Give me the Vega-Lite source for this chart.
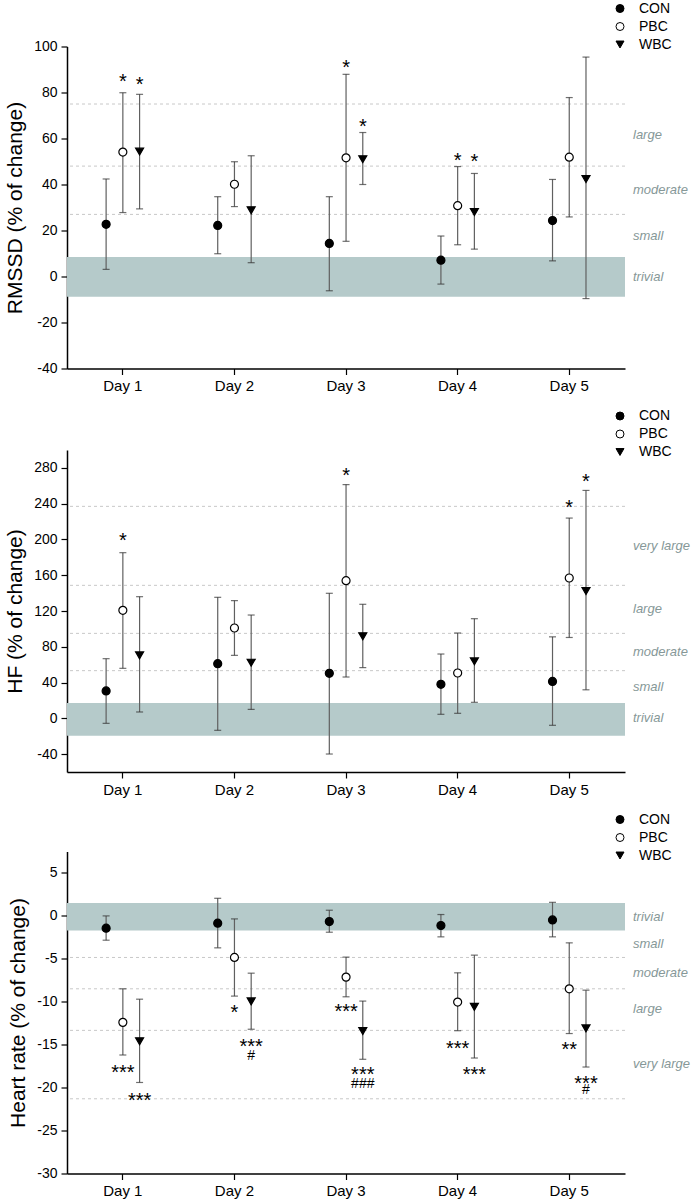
{
  "$schema": "https://vega.github.io/schema/vega-lite/v6.json",
  "padding": {"left": 4, "top": 1.5, "right": 0, "bottom": 0},
  "config": {
    "font": "Liberation Sans",
    "view": {"stroke": null},
    "axis": {"domainColor": "black", "domainWidth": 1.5, "tickColor": "black", "tickWidth": 1.2, "tickSize": 6, "labelColor": "black", "labelFontSize": 14, "titleFontSize": 21, "titleFontWeight": "normal", "titleColor": "black", "grid": false, "labelOverlap": false},
    "axisX": {"labelFontSize": 15, "labelPadding": 4, "labelAngle": 0},
    "axisY": {"labelPadding": 4, "titlePadding": 8},
    "legend": {"orient": "none", "labelFontSize": 14, "labelColor": "black", "symbolStrokeColor": "black", "symbolStrokeWidth": 1, "rowPadding": 4, "labelOffset": 12, "padding": 0}
  },
  "datasets": {
    "p1": [
      {"day": "Day 1", "group": "CON", "mean": 22.7, "lo": 3.1, "hi": 42.4},
      {"day": "Day 1", "group": "PBC", "mean": 54.1, "lo": 27.8, "hi": 79.9},
      {"day": "Day 1", "group": "WBC", "mean": 54.3, "lo": 29.4, "hi": 79.2},
      {"day": "Day 2", "group": "CON", "mean": 22.2, "lo": 9.9, "hi": 34.7},
      {"day": "Day 2", "group": "PBC", "mean": 40.1, "lo": 30.4, "hi": 49.9},
      {"day": "Day 2", "group": "WBC", "mean": 28.8, "lo": 6.0, "hi": 52.5},
      {"day": "Day 3", "group": "CON", "mean": 14.4, "lo": -6.2, "hi": 34.7},
      {"day": "Day 3", "group": "PBC", "mean": 51.6, "lo": 15.3, "hi": 87.9},
      {"day": "Day 3", "group": "WBC", "mean": 51.0, "lo": 40.0, "hi": 62.6},
      {"day": "Day 4", "group": "CON", "mean": 7.1, "lo": -3.3, "hi": 17.6},
      {"day": "Day 4", "group": "PBC", "mean": 30.8, "lo": 13.8, "hi": 47.8},
      {"day": "Day 4", "group": "WBC", "mean": 28.0, "lo": 11.9, "hi": 44.8},
      {"day": "Day 5", "group": "CON", "mean": 24.3, "lo": 6.8, "hi": 42.2},
      {"day": "Day 5", "group": "PBC", "mean": 51.9, "lo": 25.9, "hi": 77.8},
      {"day": "Day 5", "group": "WBC", "mean": 42.4, "lo": -9.6, "hi": 95.4}
    ],
    "p2": [
      {"day": "Day 1", "group": "CON", "mean": 30.6, "lo": -5.6, "hi": 66.7},
      {"day": "Day 1", "group": "PBC", "mean": 120.8, "lo": 55.9, "hi": 185.2},
      {"day": "Day 1", "group": "WBC", "mean": 70.4, "lo": 7.1, "hi": 136.0},
      {"day": "Day 2", "group": "CON", "mean": 61.1, "lo": -13.4, "hi": 135.3},
      {"day": "Day 2", "group": "PBC", "mean": 101.0, "lo": 70.4, "hi": 131.6},
      {"day": "Day 2", "group": "WBC", "mean": 62.2, "lo": 10.0, "hi": 115.5},
      {"day": "Day 3", "group": "CON", "mean": 50.3, "lo": -39.9, "hi": 139.8},
      {"day": "Day 3", "group": "PBC", "mean": 153.9, "lo": 46.2, "hi": 261.3},
      {"day": "Day 3", "group": "WBC", "mean": 91.7, "lo": 56.7, "hi": 127.5},
      {"day": "Day 4", "group": "CON", "mean": 38.0, "lo": 4.5, "hi": 71.9},
      {"day": "Day 4", "group": "PBC", "mean": 50.7, "lo": 5.6, "hi": 95.4},
      {"day": "Day 4", "group": "WBC", "mean": 63.7, "lo": 17.9, "hi": 111.4},
      {"day": "Day 5", "group": "CON", "mean": 41.3, "lo": -7.8, "hi": 91.1},
      {"day": "Day 5", "group": "PBC", "mean": 156.9, "lo": 90.4, "hi": 223.9},
      {"day": "Day 5", "group": "WBC", "mean": 142.4, "lo": 31.9, "hi": 254.8}
    ],
    "p3": [
      {"day": "Day 1", "group": "CON", "mean": -1.43, "lo": -2.83, "hi": 0.0},
      {"day": "Day 1", "group": "PBC", "mean": -12.4, "lo": -16.2, "hi": -8.49},
      {"day": "Day 1", "group": "WBC", "mean": -14.6, "lo": -19.4, "hi": -9.7},
      {"day": "Day 2", "group": "CON", "mean": -0.85, "lo": -3.72, "hi": 2.05},
      {"day": "Day 2", "group": "PBC", "mean": -4.84, "lo": -9.34, "hi": -0.35},
      {"day": "Day 2", "group": "WBC", "mean": -9.96, "lo": -13.2, "hi": -6.67},
      {"day": "Day 3", "group": "CON", "mean": -0.66, "lo": -1.9, "hi": 0.66},
      {"day": "Day 3", "group": "PBC", "mean": -7.13, "lo": -9.42, "hi": -4.8},
      {"day": "Day 3", "group": "WBC", "mean": -13.4, "lo": -16.7, "hi": -9.92},
      {"day": "Day 4", "group": "CON", "mean": -1.12, "lo": -2.44, "hi": 0.16},
      {"day": "Day 4", "group": "PBC", "mean": -10.04, "lo": -13.37, "hi": -6.63},
      {"day": "Day 4", "group": "WBC", "mean": -10.6, "lo": -16.55, "hi": -4.57},
      {"day": "Day 5", "group": "CON", "mean": -0.47, "lo": -2.44, "hi": 1.58},
      {"day": "Day 5", "group": "PBC", "mean": -8.49, "lo": -13.7, "hi": -3.14},
      {"day": "Day 5", "group": "WBC", "mean": -13.1, "lo": -17.6, "hi": -8.65}
    ],
    "a1": [
      {"day": "Day 1", "group": "PBC", "t": "*", "v": 86.9},
      {"day": "Day 1", "group": "WBC", "t": "*", "v": 85.5},
      {"day": "Day 3", "group": "PBC", "t": "*", "v": 93.0},
      {"day": "Day 3", "group": "WBC", "t": "*", "v": 67.6},
      {"day": "Day 4", "group": "PBC", "t": "*", "v": 52.8},
      {"day": "Day 4", "group": "WBC", "t": "*", "v": 52.0}
    ],
    "a2": [
      {"day": "Day 1", "group": "PBC", "t": "*", "v": 204.6},
      {"day": "Day 3", "group": "PBC", "t": "*", "v": 276.6},
      {"day": "Day 5", "group": "PBC", "t": "*", "v": 241.4},
      {"day": "Day 5", "group": "WBC", "t": "*", "v": 270.4}
    ],
    "a3": [
      {"day": "Day 1", "group": "PBC", "t": "***", "v": -17.6},
      {"day": "Day 1", "group": "WBC", "t": "***", "v": -20.9},
      {"day": "Day 2", "group": "PBC", "t": "*", "v": -10.7},
      {"day": "Day 2", "group": "WBC", "t": "***", "v": -14.6},
      {"day": "Day 2", "group": "WBC", "t": "#", "v": -16.2},
      {"day": "Day 3", "group": "PBC", "t": "***", "v": -10.6},
      {"day": "Day 3", "group": "WBC", "t": "***", "v": -17.9},
      {"day": "Day 3", "group": "WBC", "t": "###", "v": -19.5},
      {"day": "Day 4", "group": "PBC", "t": "***", "v": -14.9},
      {"day": "Day 4", "group": "WBC", "t": "***", "v": -17.9},
      {"day": "Day 5", "group": "PBC", "t": "**", "v": -15.0},
      {"day": "Day 5", "group": "WBC", "t": "***", "v": -18.95},
      {"day": "Day 5", "group": "WBC", "t": "#", "v": -20.2}
    ],
    "t1": [{"v": 75}, {"v": 48}, {"v": 27}],
    "t2": [{"v": 237}, {"v": 148.7}, {"v": 95}, {"v": 53.3}],
    "t3": [{"v": -4.84}, {"v": -8.49}, {"v": -13.33}, {"v": -21.3}],
    "b1": [{"lo": -8.8, "hi": 8.5}],
    "b2": [{"lo": -19.4, "hi": 17.1}],
    "b3": [{"lo": -1.7, "hi": 1.5}],
    "l1": [{"label": "large", "v": 61.5}, {"label": "moderate", "v": 37.5}, {"label": "small", "v": 17.75}, {"label": "trivial", "v": 0}],
    "l2": [{"label": "very large", "v": 192.9}, {"label": "large", "v": 121.9}, {"label": "moderate", "v": 74.2}, {"label": "small", "v": 35.2}, {"label": "trivial", "v": 0}],
    "l3": [{"label": "trivial", "v": -0.1}, {"label": "small", "v": -3.3}, {"label": "moderate", "v": -6.7}, {"label": "large", "v": -10.9}, {"label": "very large", "v": -17.3}]
  },
  "spacing": 15.5,
  "resolve": {
    "scale": {"shape": "independent", "fill": "independent", "size": "independent", "stroke": "independent"},
    "legend": {"shape": "independent", "fill": "independent", "size": "independent", "stroke": "independent"}
  },
  "vconcat": [
    {
      "width": 558, "height": 322,
      "layer": [
        {"data": {"name": "b1"}, "mark": {"type": "rect", "color": "#b5caca"},
         "encoding": {"y": {"field": "lo", "type": "quantitative", "scale": {"domain": [-40, 100], "nice": false, "zero": false}}, "y2": {"field": "hi"}}},
        {"data": {"name": "t1"}, "mark": {"type": "rule", "color": "#c8c8c8", "strokeDash": [3, 3], "strokeWidth": 1},
         "encoding": {"y": {"field": "v", "type": "quantitative"}}},
        {"data": {"name": "p1"}, "mark": {"type": "rule", "color": "#606060", "strokeWidth": 1.2},
         "encoding": {"x": {"field": "day", "type": "nominal", "title": null, "scale": {"paddingInner": 0, "paddingOuter": 0}},
                      "xOffset": {"field": "group", "type": "nominal", "scale": {"domain": ["CON", "PBC", "WBC"], "paddingInner": 0, "paddingOuter": 0, "range": [30.75, 80.95]}},
                      "y": {"field": "lo", "type": "quantitative"}, "y2": {"field": "hi"}}},
        {"data": {"name": "p1"}, "mark": {"type": "tick", "color": "#333333", "size": 7, "thickness": 1.2, "orient": "horizontal"},
         "encoding": {"x": {"field": "day", "type": "nominal", "title": null}, "xOffset": {"field": "group", "type": "nominal"},
                      "y": {"field": "lo", "type": "quantitative"}}},
        {"data": {"name": "p1"}, "mark": {"type": "tick", "color": "#333333", "size": 7, "thickness": 1.2, "orient": "horizontal"},
         "encoding": {"x": {"field": "day", "type": "nominal", "title": null}, "xOffset": {"field": "group", "type": "nominal"},
                      "y": {"field": "hi", "type": "quantitative"}}},
        {"data": {"name": "p1"}, "mark": {"type": "point", "strokeWidth": 1.2, "opacity": 1},
         "encoding": {"x": {"field": "day", "type": "nominal", "title": null, "axis": {"labelAngle": 0}},
                      "xOffset": {"field": "group", "type": "nominal"},
                      "y": {"field": "mean", "type": "quantitative", "title": "RMSSD (% of change)",
                            "axis": {"values": [-40, -30, -20, -10, 0, 10, 20, 30, 40, 50, 60, 70, 80, 90, 100], "labelExpr": "'' + datum.value"}},
                      "shape": {"field": "group", "type": "nominal", "scale": {"domain": ["CON", "PBC", "WBC"], "range": ["circle", "circle", "triangle-down"]},
                                "legend": {"title": null, "orient": "none", "legendX": 546, "legendY": -45}},
                      "fill": {"field": "group", "type": "nominal", "scale": {"domain": ["CON", "PBC", "WBC"], "range": ["black", "white", "black"]},
                               "legend": {"title": null, "orient": "none", "legendX": 546, "legendY": -45}},
                      "stroke": {"field": "group", "type": "nominal", "scale": {"domain": ["CON", "PBC", "WBC"], "range": ["black", "black", "black"]},
                               "legend": {"title": null, "orient": "none", "legendX": 546, "legendY": -45}},
                      "size": {"field": "group", "type": "nominal", "scale": {"domain": ["CON", "PBC", "WBC"], "range": [64, 64, 85]},
                               "legend": {"title": null, "orient": "none", "legendX": 546, "legendY": -45}}}},
        {"data": {"name": "a1"}, "mark": {"type": "text", "fontSize": 20, "baseline": "alphabetic", "dy": 11.5, "color": "black"},
         "encoding": {"x": {"field": "day", "type": "nominal", "title": null}, "xOffset": {"field": "group", "type": "nominal"},
                      "y": {"field": "v", "type": "quantitative"}, "text": {"field": "t"}}},
        {"data": {"name": "l1"}, "mark": {"type": "text", "align": "left", "baseline": "middle", "dx": 8, "fontStyle": "italic", "fontSize": 13, "color": "#869898"},
         "encoding": {"x": {"value": "width"}, "y": {"field": "v", "type": "quantitative"}, "text": {"field": "label"}}}
      ]
    },
    {
      "width": 558, "height": 322,
      "layer": [
        {"data": {"name": "b2"}, "mark": {"type": "rect", "color": "#b5caca"},
         "encoding": {"y": {"field": "lo", "type": "quantitative", "scale": {"domain": [-60, 300], "nice": false, "zero": false}}, "y2": {"field": "hi"}}},
        {"data": {"name": "t2"}, "mark": {"type": "rule", "color": "#c8c8c8", "strokeDash": [3, 3], "strokeWidth": 1},
         "encoding": {"y": {"field": "v", "type": "quantitative"}}},
        {"data": {"name": "p2"}, "mark": {"type": "rule", "color": "#606060", "strokeWidth": 1.2},
         "encoding": {"x": {"field": "day", "type": "nominal", "title": null, "scale": {"paddingInner": 0, "paddingOuter": 0}},
                      "xOffset": {"field": "group", "type": "nominal", "scale": {"domain": ["CON", "PBC", "WBC"], "paddingInner": 0, "paddingOuter": 0, "range": [30.75, 80.95]}},
                      "y": {"field": "lo", "type": "quantitative"}, "y2": {"field": "hi"}}},
        {"data": {"name": "p2"}, "mark": {"type": "tick", "color": "#333333", "size": 7, "thickness": 1.2, "orient": "horizontal"},
         "encoding": {"x": {"field": "day", "type": "nominal", "title": null}, "xOffset": {"field": "group", "type": "nominal"},
                      "y": {"field": "lo", "type": "quantitative"}}},
        {"data": {"name": "p2"}, "mark": {"type": "tick", "color": "#333333", "size": 7, "thickness": 1.2, "orient": "horizontal"},
         "encoding": {"x": {"field": "day", "type": "nominal", "title": null}, "xOffset": {"field": "group", "type": "nominal"},
                      "y": {"field": "hi", "type": "quantitative"}}},
        {"data": {"name": "p2"}, "mark": {"type": "point", "strokeWidth": 1.2, "opacity": 1},
         "encoding": {"x": {"field": "day", "type": "nominal", "title": null, "axis": {"labelAngle": 0}},
                      "xOffset": {"field": "group", "type": "nominal"},
                      "y": {"field": "mean", "type": "quantitative", "title": "HF (% of change)",
                            "axis": {"values": [-40, 0, 40, 80, 120, 160, 200, 240, 280], "labelExpr": "'' + datum.value"}},
                      "shape": {"field": "group", "type": "nominal", "scale": {"domain": ["CON", "PBC", "WBC"], "range": ["circle", "circle", "triangle-down"]},
                                "legend": {"title": null, "orient": "none", "legendX": 546, "legendY": -41}},
                      "fill": {"field": "group", "type": "nominal", "scale": {"domain": ["CON", "PBC", "WBC"], "range": ["black", "white", "black"]},
                               "legend": {"title": null, "orient": "none", "legendX": 546, "legendY": -41}},
                      "stroke": {"field": "group", "type": "nominal", "scale": {"domain": ["CON", "PBC", "WBC"], "range": ["black", "black", "black"]},
                               "legend": {"title": null, "orient": "none", "legendX": 546, "legendY": -41}},
                      "size": {"field": "group", "type": "nominal", "scale": {"domain": ["CON", "PBC", "WBC"], "range": [64, 64, 85]},
                               "legend": {"title": null, "orient": "none", "legendX": 546, "legendY": -41}}}},
        {"data": {"name": "a2"}, "mark": {"type": "text", "fontSize": 20, "baseline": "alphabetic", "dy": 11.5, "color": "black"},
         "encoding": {"x": {"field": "day", "type": "nominal", "title": null}, "xOffset": {"field": "group", "type": "nominal"},
                      "y": {"field": "v", "type": "quantitative"}, "text": {"field": "t"}}},
        {"data": {"name": "l2"}, "mark": {"type": "text", "align": "left", "baseline": "middle", "dx": 8, "fontStyle": "italic", "fontSize": 13, "color": "#869898"},
         "encoding": {"x": {"value": "width"}, "y": {"field": "v", "type": "quantitative"}, "text": {"field": "label"}}}
      ]
    },
    {
      "width": 558, "height": 322,
      "layer": [
        {"data": {"name": "b3"}, "mark": {"type": "rect", "color": "#b5caca"},
         "encoding": {"y": {"field": "lo", "type": "quantitative", "scale": {"domain": [-30, 7.5], "nice": false, "zero": false}}, "y2": {"field": "hi"}}},
        {"data": {"name": "t3"}, "mark": {"type": "rule", "color": "#c8c8c8", "strokeDash": [3, 3], "strokeWidth": 1},
         "encoding": {"y": {"field": "v", "type": "quantitative"}}},
        {"data": {"name": "p3"}, "mark": {"type": "rule", "color": "#606060", "strokeWidth": 1.2},
         "encoding": {"x": {"field": "day", "type": "nominal", "title": null, "scale": {"paddingInner": 0, "paddingOuter": 0}},
                      "xOffset": {"field": "group", "type": "nominal", "scale": {"domain": ["CON", "PBC", "WBC"], "paddingInner": 0, "paddingOuter": 0, "range": [30.75, 80.95]}},
                      "y": {"field": "lo", "type": "quantitative"}, "y2": {"field": "hi"}}},
        {"data": {"name": "p3"}, "mark": {"type": "tick", "color": "#333333", "size": 7, "thickness": 1.2, "orient": "horizontal"},
         "encoding": {"x": {"field": "day", "type": "nominal", "title": null}, "xOffset": {"field": "group", "type": "nominal"},
                      "y": {"field": "lo", "type": "quantitative"}}},
        {"data": {"name": "p3"}, "mark": {"type": "tick", "color": "#333333", "size": 7, "thickness": 1.2, "orient": "horizontal"},
         "encoding": {"x": {"field": "day", "type": "nominal", "title": null}, "xOffset": {"field": "group", "type": "nominal"},
                      "y": {"field": "hi", "type": "quantitative"}}},
        {"data": {"name": "p3"}, "mark": {"type": "point", "strokeWidth": 1.2, "opacity": 1},
         "encoding": {"x": {"field": "day", "type": "nominal", "title": null, "axis": {"labelAngle": 0}},
                      "xOffset": {"field": "group", "type": "nominal"},
                      "y": {"field": "mean", "type": "quantitative", "title": "Heart rate (% of change)",
                            "axis": {"values": [-30, -27.5, -25, -22.5, -20, -17.5, -15, -12.5, -10, -7.5, -5, -2.5, 0, 2.5, 5],
                                     "labelExpr": "datum.value % 5 === 0 ? '' + datum.value : ''",
                                     "tickSize": {"condition": {"test": "datum.value % 5 === 0", "value": 6}, "value": 3}}},
                      "shape": {"field": "group", "type": "nominal", "scale": {"domain": ["CON", "PBC", "WBC"], "range": ["circle", "circle", "triangle-down"]},
                                "legend": {"title": null, "orient": "none", "legendX": 546, "legendY": -39}},
                      "fill": {"field": "group", "type": "nominal", "scale": {"domain": ["CON", "PBC", "WBC"], "range": ["black", "white", "black"]},
                               "legend": {"title": null, "orient": "none", "legendX": 546, "legendY": -39}},
                      "stroke": {"field": "group", "type": "nominal", "scale": {"domain": ["CON", "PBC", "WBC"], "range": ["black", "black", "black"]},
                               "legend": {"title": null, "orient": "none", "legendX": 546, "legendY": -39}},
                      "size": {"field": "group", "type": "nominal", "scale": {"domain": ["CON", "PBC", "WBC"], "range": [64, 64, 85]},
                               "legend": {"title": null, "orient": "none", "legendX": 546, "legendY": -39}}}},
        {"data": {"name": "a3"}, "transform": [{"filter": "indexof(datum.t, '#') < 0"}],
         "mark": {"type": "text", "fontSize": 20, "baseline": "alphabetic", "dy": 11.5, "color": "black"},
         "encoding": {"x": {"field": "day", "type": "nominal", "title": null}, "xOffset": {"field": "group", "type": "nominal"},
                      "y": {"field": "v", "type": "quantitative"}, "text": {"field": "t"}}},
        {"data": {"name": "a3"}, "transform": [{"filter": "indexof(datum.t, '#') >= 0"}],
         "mark": {"type": "text", "fontSize": 14, "baseline": "alphabetic", "dy": 5, "color": "black"},
         "encoding": {"x": {"field": "day", "type": "nominal", "title": null}, "xOffset": {"field": "group", "type": "nominal"},
                      "y": {"field": "v", "type": "quantitative"}, "text": {"field": "t"}}},
        {"data": {"name": "l3"}, "mark": {"type": "text", "align": "left", "baseline": "middle", "dx": 8, "fontStyle": "italic", "fontSize": 13, "color": "#869898"},
         "encoding": {"x": {"value": "width"}, "y": {"field": "v", "type": "quantitative"}, "text": {"field": "label"}}}
      ]
    }
  ]
}
